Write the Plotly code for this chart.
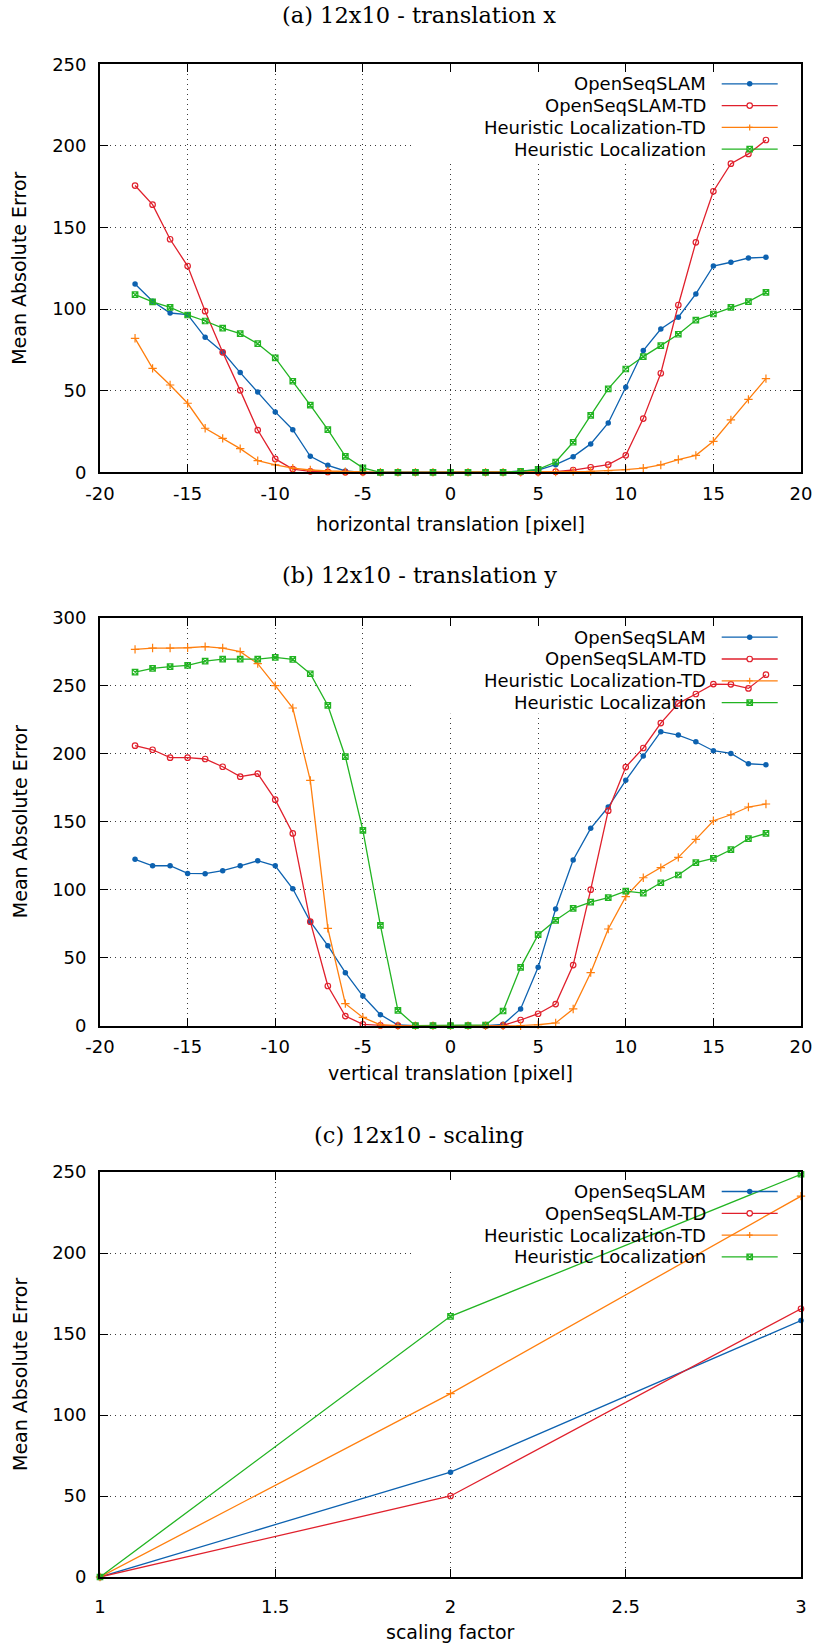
import plotly.graph_objects as go

# ---------------- data ----------------
series_names = ["OpenSeqSLAM", "OpenSeqSLAM-TD", "Heuristic Localization-TD", "Heuristic Localization"]

x_trans = list(range(-18, 19))

# (a) translation x
a_osl = [115.4, 104.8, 97.6, 96.6, 82.7, 73.7, 61.1, 49.2, 37.0, 26.1, 9.8, 4.3, 0.8, 0,
         0, 0, 0, 0, 0, 0, 0, 0,
         0.8, 1.4, 4.7, 9.6, 17.4, 30.2, 52.1, 74.6, 87.8, 95.0, 109.3, 126.4, 128.7, 131.3, 131.7]
a_osl_td = [175.7, 164.0, 142.8, 126.4, 98.7, 73.5, 50.2, 25.9, 8.2, 2.0, 0.6, 0.2, 0, 0,
            0, 0, 0, 0, 0, 0, 0, 0, 0, 0,
            0.4, 1.4, 3.1, 4.7, 10.4, 32.9, 60.7, 102.5, 140.9, 172.2, 189.1, 195.1, 203.6]
a_hl_td = [82.1, 63.7, 53.5, 42.3, 27.0, 20.8, 14.5, 7.1, 4.5, 2.5, 1.4, 0.8, 0.4, 0.2,
           0, 0, 0, 0, 0, 0, 0, 0, 0, 0,
           0.2, 0.4, 0.6, 1.0, 1.6, 2.5, 4.5, 7.8, 10.4, 19.0, 32.1, 44.7, 57.4]
a_hl = [108.9, 104.4, 101.1, 96.4, 92.7, 88.4, 85.0, 78.8, 70.1, 55.8, 41.1, 26.1, 9.8, 2.7, 0,
        0, 0, 0, 0, 0, 0, 0,
        0.6, 1.8, 6.3, 18.4, 34.9, 51.1, 63.3, 70.9, 77.6, 84.6, 93.3, 97.0, 101.1, 104.6, 110.3]

# (b) translation y
b_osl = [122.3, 117.6, 117.6, 112.0, 111.8, 114.0, 117.6, 121.3, 117.6, 100.7, 76.5, 58.8, 39.0, 21.8, 8.1, 0.5, 0,
         0, 0, 0, 0,
         1.0, 12.3, 42.9, 85.8, 121.8, 145.1, 160.8, 180.4, 198.3, 216.2, 213.7, 208.8, 202.2, 200.2, 192.6, 191.9]
b_osl_td = [205.9, 202.9, 197.1, 197.1, 196.1, 190.4, 183.1, 185.3, 166.2, 141.4, 76.5, 29.2, 7.1, 1.0, 0.2, 0,
            0, 0, 0, 0, 0,
            0.2, 4.2, 8.8, 15.9, 44.6, 100.0, 158.1, 190.2, 204.2, 222.5, 237.0, 243.9, 251.2, 251.0, 248.0, 258.1]
b_hl_td = [276.7, 277.7, 277.7, 277.9, 278.7, 277.7, 275.0, 266.2, 250.0, 233.6, 180.4, 71.6, 16.2, 6.1, 0.7, 0,
           0, 0, 0, 0, 0, 0,
           0, 0.7, 2.0, 12.3, 39.0, 71.1, 94.9, 108.8, 116.2, 123.8, 137.0, 150.7, 155.1, 160.8, 163.0]
b_hl = [260.0, 262.7, 264.0, 265.0, 268.1, 269.6, 269.6, 269.6, 270.8, 269.4, 258.8, 235.5, 197.8, 143.6, 73.8, 11.3, 0,
        0, 0, 0,
        0.5, 10.8, 42.9, 66.9, 77.5, 86.3, 90.9, 94.1, 99.0, 97.5, 105.1, 110.8, 119.9, 123.0, 129.4, 137.5, 141.4]

# (c) scaling
x_scale = [1, 2, 3]
c_osl = [0, 64.7, 158.3]
c_osl_td = [0, 50.0, 165.6]
c_hl_td = [0, 113.2, 235.1]
c_hl = [0, 160.9, 248.6]

trans_ticks = [-20, -15, -10, -5, 0, 5, 10, 15, 20]
trans_tick_text = ["-20", "-15", "-10", "-5", "0", "5", "10", "15", "20"]
scale_ticks = [1, 1.5, 2, 2.5, 3]
scale_tick_text = ["1", "1.5", "2", "2.5", "3"]

titles = ["(a) 12x10 - translation x", "(b) 12x10 - translation y", "(c) 12x10 - scaling"]
x_titles = ["horizontal translation [pixel]", "vertical translation [pixel]", "scaling factor"]
y_title = "Mean Absolute Error"

# ---------------- styling ----------------
W, H = 819, 1645
L, R = 100, 18
PW = W - L - R
colors = ["#0d62b0", "#e0202c", "#ff7f0e", "#22b422"]
SANS = "DejaVu Sans"
SERIF = "DejaVu Serif"


def marker_style(k):
    c = colors[k]
    if k == 0:
        return dict(symbol="circle", size=5.5, color=c)
    if k == 1:
        return dict(symbol="circle-open", size=5.5, color=c, line=dict(width=1.2, color=c))
    if k == 2:
        return dict(symbol="cross-thin", size=6, color=c, line=dict(width=1.2, color=c))
    return dict(symbol="square-x-open", size=5.5, color=c, line=dict(width=1.2, color=c))


panels = [
    dict(top=64.3, bottom=472.3, x=x_trans, ys=[a_osl, a_osl_td, a_hl_td, a_hl], xr=[-20, 20], yr=[0, 250],
         tv=trans_ticks, tt=trans_tick_text, title_y=15, xt_y=524, so=4),
    dict(top=617.7, bottom=1025.7, x=x_trans, ys=[b_osl, b_osl_td, b_hl_td, b_hl], xr=[-20, 20], yr=[0, 300],
         tv=trans_ticks, tt=trans_tick_text, title_y=575, xt_y=1073, so=4),
    dict(top=1172.0, bottom=1577.0, x=x_scale, ys=[c_osl, c_osl_td, c_hl_td, c_hl], xr=[1, 3], yr=[0, 250],
         tv=scale_ticks, tt=scale_tick_text, title_y=1135, xt_y=1632, so=12),
]

fig = go.Figure()
layout = dict(
    width=W, height=H, margin=dict(l=L, r=R, t=0, b=0, autoexpand=False),
    paper_bgcolor="white", plot_bgcolor="white", showlegend=False,
    font=dict(family=SANS, size=18, color="black"),
)
annotations = []
shapes = []


def px_to_paper_y(p):
    return 1 - p / H


def px_to_paper_x(p):
    return (p - L) / PW


for i, p in enumerate(panels):
    n = i + 1
    sfx = "" if n == 1 else str(n)
    dom = [px_to_paper_y(p["bottom"]), px_to_paper_y(p["top"])]
    axis_common = dict(
        showline=True, linecolor="black", linewidth=1.8, mirror="ticks",
        ticks="inside", ticklen=8, tickwidth=1, tickcolor="black",
        showgrid=True, gridcolor="#3a3a3a", gridwidth=1, griddash="1px,4px",
        zeroline=False, automargin=False,
        tickfont=dict(family=SANS, size=18, color="black"),
    )
    layout["xaxis" + sfx] = dict(axis_common, domain=[0, 1], range=p["xr"], anchor="y" + sfx,
                                 tickmode="array", tickvals=p["tv"], ticktext=p["tt"],
                                 ticklabelstandoff=p["so"])
    layout["yaxis" + sfx] = dict(axis_common, domain=dom, range=p["yr"], anchor="x" + sfx,
                                 dtick=50, tick0=0, ticklabelstandoff=8)

    for k in range(4):
        fig.add_trace(go.Scatter(
            x=p["x"], y=p["ys"][k], mode="lines+markers", name=series_names[k],
            line=dict(color=colors[k], width=1.3),
            marker=marker_style(k),
            xaxis="x" + sfx, yaxis="y" + sfx, cliponaxis=False,
        ))

    ph = p["bottom"] - p["top"]
    xr_ = "x" + sfx + " domain"
    yr_ = "y" + sfx + " domain"
    # opaque key box hiding the grid (gnuplot key), placed in axis units
    fx0 = (413 - L) / PW
    fy0 = 1 - 96 / ph
    shapes.append(dict(type="rect", xref="x" + sfx, yref="y" + sfx,
                       x0=p["xr"][0] + fx0 * (p["xr"][1] - p["xr"][0]), x1=p["xr"][1],
                       y0=p["yr"][0] + fy0 * (p["yr"][1] - p["yr"][0]), y1=p["yr"][1],
                       fillcolor="white", line=dict(width=0), layer="between"))
    # key
    x0 = (721.7 - L) / PW
    x1 = (777.7 - L) / PW
    xm = (x0 + x1) / 2
    for k in range(4):
        row_px = 19.5 + 21.8 * k
        yf = 1 - row_px / ph
        c = colors[k]
        annotations.append(dict(text=series_names[k], xref="paper", yref="paper",
                                x=px_to_paper_x(708), y=px_to_paper_y(p["top"] + row_px),
                                xanchor="right", yanchor="middle", showarrow=False,
                                font=dict(family=SANS, size=18, color="black")))
        shapes.append(dict(type="line", xref=xr_, yref=yr_, x0=x0, x1=x1, y0=yf, y1=yf,
                           line=dict(color=c, width=1.3)))
        base = dict(xref=xr_, yref=yr_, xsizemode="pixel", ysizemode="pixel",
                    xanchor=xm, yanchor=yf)
        if k == 0:
            shapes.append(dict(base, type="circle", x0=-2.75, x1=2.75, y0=-2.75, y1=2.75,
                               fillcolor=c, line=dict(width=0)))
        elif k == 1:
            shapes.append(dict(base, type="circle", x0=-2.75, x1=2.75, y0=-2.75, y1=2.75,
                               fillcolor="white", line=dict(color=c, width=1.2)))
        elif k == 2:
            shapes.append(dict(base, type="path", path="M-3,0 L3,0 M0,-3 L0,3",
                               line=dict(color=c, width=1.2)))
        else:
            shapes.append(dict(base, type="path",
                               path="M-2.75,-2.75 L2.75,-2.75 L2.75,2.75 L-2.75,2.75 Z "
                                    "M-2.75,-2.75 L2.75,2.75 M-2.75,2.75 L2.75,-2.75",
                               line=dict(color=c, width=1.2)))

    # panel title
    annotations.append(dict(text=titles[i], xref="paper", yref="paper",
                            x=px_to_paper_x(419), y=px_to_paper_y(p["title_y"]),
                            xanchor="center", yanchor="middle", showarrow=False,
                            font=dict(family=SERIF, size=22.5, color="black")))
    # axis titles
    annotations.append(dict(text=x_titles[i], xref="paper", yref="paper",
                            x=0.5, y=px_to_paper_y(p["xt_y"]),
                            xanchor="center", yanchor="middle", showarrow=False,
                            font=dict(family=SANS, size=19, color="black")))
    annotations.append(dict(text=y_title, xref="paper", yref="paper", textangle=-90,
                            x=px_to_paper_x(19.5), y=px_to_paper_y((p["top"] + p["bottom"]) / 2),
                            xanchor="center", yanchor="middle", showarrow=False,
                            font=dict(family=SANS, size=19, color="black")))

layout["annotations"] = annotations
layout["shapes"] = shapes
fig.update_layout(**layout)
fig.write_html("out.html")
